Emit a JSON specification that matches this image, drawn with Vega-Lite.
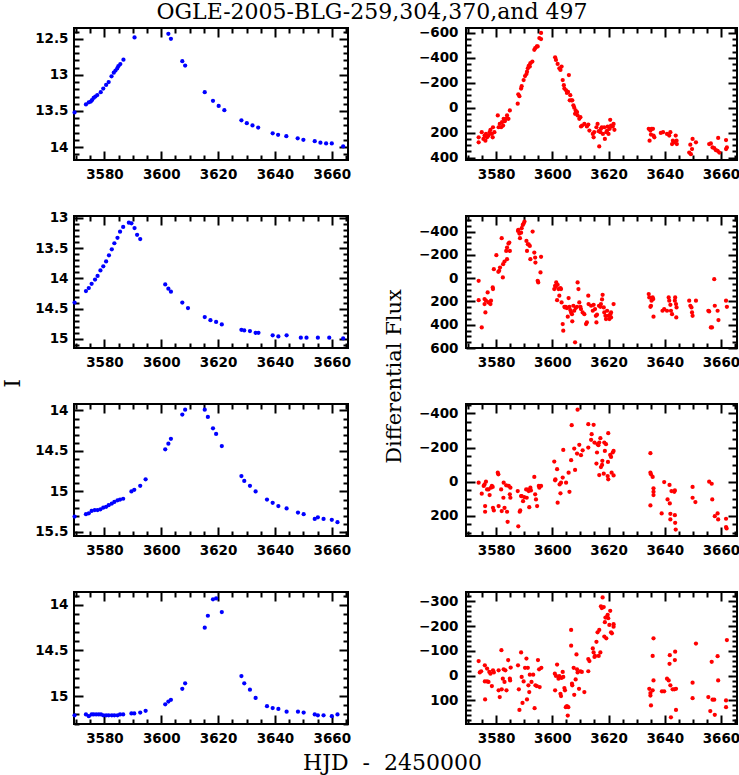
{
"$schema": "https://vega.github.io/schema/vega-lite/v6.json",
"autosize": "none",
"padding": {"left": 74, "top": 28, "right": 665, "bottom": 747},
"bounds": "flush",
"columns": 2,
"spacing": {"row": 56, "column": 118},
"config": {
  "view": {"stroke": "black", "strokeWidth": 2},
  "axis": {"domain": false, "grid": false, "labelFont": "DejaVu Sans", "labelFontWeight": "bold", "labelFontSize": 13.5, "labelColor": "black", "tickColor": "black", "tickWidth": 2, "titleFont": "DejaVu Serif", "titleFontWeight": "normal", "titleFontSize": 22, "titleColor": "black", "labelOverlap": false, "labelFlush": false}
},
"datasets": {
"p1L": [{"t":3569.5,"v":13.52},{"t":3573.5,"v":13.41},{"t":3574.5,"v":13.38},{"t":3575.2,"v":13.37},{"t":3575.6,"v":13.35},{"t":3576.2,"v":13.32},{"t":3576.8,"v":13.30},{"t":3577.5,"v":13.28},{"t":3578.7,"v":13.24},{"t":3579.6,"v":13.19},{"t":3580.6,"v":13.14},{"t":3581.5,"v":13.10},{"t":3582.5,"v":13.02},{"t":3583.3,"v":12.97},{"t":3583.9,"v":12.94},{"t":3584.5,"v":12.91},{"t":3584.9,"v":12.88},{"t":3585.6,"v":12.85},{"t":3586.7,"v":12.79},{"t":3590.6,"v":12.48},{"t":3602.5,"v":12.43},{"t":3603.4,"v":12.50},{"t":3607.4,"v":12.81},{"t":3608.4,"v":12.87},{"t":3615.3,"v":13.24},{"t":3618.2,"v":13.36},{"t":3620.2,"v":13.43},{"t":3622.2,"v":13.49},{"t":3628.2,"v":13.63},{"t":3630.1,"v":13.67},{"t":3632.1,"v":13.70},{"t":3634.1,"v":13.73},{"t":3639.2,"v":13.81},{"t":3641.1,"v":13.83},{"t":3644.0,"v":13.85},{"t":3648.0,"v":13.88},{"t":3650.0,"v":13.90},{"t":3654.0,"v":13.92},{"t":3656.0,"v":13.94},{"t":3658.0,"v":13.95},{"t":3660.0,"v":13.95},{"t":3664.0,"v":13.99}],
"p2L": [{"t":3569.5,"v":14.40},{"t":3573.5,"v":14.21},{"t":3574.5,"v":14.16},{"t":3575.5,"v":14.09},{"t":3576.7,"v":14.02},{"t":3577.6,"v":13.96},{"t":3578.6,"v":13.87},{"t":3579.6,"v":13.80},{"t":3580.6,"v":13.72},{"t":3581.6,"v":13.62},{"t":3582.6,"v":13.52},{"t":3583.5,"v":13.42},{"t":3584.6,"v":13.33},{"t":3585.5,"v":13.23},{"t":3586.6,"v":13.15},{"t":3588.6,"v":13.08},{"t":3589.5,"v":13.09},{"t":3590.6,"v":13.17},{"t":3591.5,"v":13.28},{"t":3592.6,"v":13.35},{"t":3601.4,"v":14.10},{"t":3602.5,"v":14.17},{"t":3603.4,"v":14.22},{"t":3607.4,"v":14.40},{"t":3609.4,"v":14.49},{"t":3615.3,"v":14.64},{"t":3617.3,"v":14.69},{"t":3619.3,"v":14.72},{"t":3621.3,"v":14.76},{"t":3628.2,"v":14.85},{"t":3629.2,"v":14.86},{"t":3631.2,"v":14.87},{"t":3633.2,"v":14.90},{"t":3634.2,"v":14.90},{"t":3639.2,"v":14.94},{"t":3641.2,"v":14.96},{"t":3644.1,"v":14.94},{"t":3649.1,"v":14.98},{"t":3651.1,"v":14.98},{"t":3655.1,"v":14.98},{"t":3659.1,"v":14.98},{"t":3664.0,"v":14.99}],
"p3L": [{"t":3569.5,"v":15.31},{"t":3573.5,"v":15.28},{"t":3574.5,"v":15.27},{"t":3575.5,"v":15.24},{"t":3576.6,"v":15.23},{"t":3577.6,"v":15.23},{"t":3578.6,"v":15.22},{"t":3579.6,"v":15.20},{"t":3580.6,"v":15.19},{"t":3581.5,"v":15.17},{"t":3582.6,"v":15.15},{"t":3583.5,"v":15.13},{"t":3584.6,"v":15.11},{"t":3585.5,"v":15.10},{"t":3586.6,"v":15.09},{"t":3589.5,"v":15.00},{"t":3590.5,"v":14.98},{"t":3592.6,"v":14.93},{"t":3594.5,"v":14.85},{"t":3601.4,"v":14.48},{"t":3602.5,"v":14.41},{"t":3603.4,"v":14.35},{"t":3607.4,"v":14.05},{"t":3608.4,"v":13.99},{"t":3615.3,"v":13.99},{"t":3616.4,"v":14.08},{"t":3618.2,"v":14.22},{"t":3619.3,"v":14.29},{"t":3621.3,"v":14.44},{"t":3628.2,"v":14.81},{"t":3629.2,"v":14.87},{"t":3631.2,"v":14.93},{"t":3633.2,"v":15.00},{"t":3637.2,"v":15.10},{"t":3639.2,"v":15.14},{"t":3641.2,"v":15.18},{"t":3644.1,"v":15.21},{"t":3648.1,"v":15.26},{"t":3650.1,"v":15.28},{"t":3654.0,"v":15.34},{"t":3655.1,"v":15.32},{"t":3657.1,"v":15.34},{"t":3660.0,"v":15.35},{"t":3662.0,"v":15.38}],
"p4L": [{"t":3569.5,"v":15.21},{"t":3573.5,"v":15.20},{"t":3574.5,"v":15.22},{"t":3575.5,"v":15.20},{"t":3576.2,"v":15.20},{"t":3577.1,"v":15.20},{"t":3578.0,"v":15.20},{"t":3578.8,"v":15.20},{"t":3579.6,"v":15.21},{"t":3580.6,"v":15.21},{"t":3581.5,"v":15.21},{"t":3582.6,"v":15.21},{"t":3583.5,"v":15.21},{"t":3584.6,"v":15.21},{"t":3585.5,"v":15.20},{"t":3586.6,"v":15.20},{"t":3589.5,"v":15.19},{"t":3590.5,"v":15.19},{"t":3592.6,"v":15.18},{"t":3594.5,"v":15.16},{"t":3601.4,"v":15.09},{"t":3602.5,"v":15.06},{"t":3603.4,"v":15.04},{"t":3607.4,"v":14.92},{"t":3608.4,"v":14.86},{"t":3615.3,"v":14.25},{"t":3616.4,"v":14.12},{"t":3618.2,"v":13.94},{"t":3619.3,"v":13.93},{"t":3621.3,"v":14.08},{"t":3628.2,"v":14.78},{"t":3629.2,"v":14.86},{"t":3631.2,"v":14.93},{"t":3633.2,"v":15.02},{"t":3637.2,"v":15.11},{"t":3639.2,"v":15.13},{"t":3641.2,"v":15.14},{"t":3644.1,"v":15.17},{"t":3648.1,"v":15.17},{"t":3650.1,"v":15.18},{"t":3654.0,"v":15.20},{"t":3655.1,"v":15.21},{"t":3657.1,"v":15.21},{"t":3660.0,"v":15.22},{"t":3662.0,"v":15.20}],
"p1R": [{"t":3573.8,"v":238},{"t":3573.8,"v":278},{"t":3574.9,"v":197},{"t":3575.5,"v":251},{"t":3575.9,"v":224},{"t":3576.2,"v":265},{"t":3576.4,"v":211},{"t":3576.8,"v":238},{"t":3577.3,"v":224},{"t":3577.7,"v":197},{"t":3578.0,"v":178},{"t":3578.5,"v":211},{"t":3578.8,"v":238},{"t":3578.9,"v":157},{"t":3579.4,"v":197},{"t":3580.6,"v":62},{"t":3580.9,"v":157},{"t":3581.3,"v":130},{"t":3581.8,"v":157},{"t":3582.1,"v":116},{"t":3582.5,"v":143},{"t":3582.7,"v":89},{"t":3583.1,"v":108},{"t":3583.6,"v":89},{"t":3583.9,"v":62},{"t":3584.4,"v":89},{"t":3584.9,"v":22},{"t":3587.7,"v":-32},{"t":3587.9,"v":-108},{"t":3588.3,"v":-92},{"t":3588.9,"v":-154},{"t":3589.1,"v":-173},{"t":3589.8,"v":-222},{"t":3590.3,"v":-254},{"t":3590.8,"v":-270},{"t":3591.0,"v":-289},{"t":3591.3,"v":-316},{"t":3591.6,"v":-335},{"t":3592.0,"v":-330},{"t":3592.2,"v":-357},{"t":3592.9,"v":-370},{"t":3593.6,"v":-465},{"t":3593.9,"v":-478},{"t":3594.5,"v":-492},{"t":3594.8,"v":-492},{"t":3595.4,"v":-559},{"t":3596.0,"v":-600},{"t":3596.0,"v":-551},{"t":3601.0,"v":-405},{"t":3601.3,"v":-384},{"t":3601.9,"v":-351},{"t":3602.5,"v":-316},{"t":3602.9,"v":-303},{"t":3603.3,"v":-330},{"t":3603.7,"v":-222},{"t":3604.1,"v":-181},{"t":3604.3,"v":-154},{"t":3604.9,"v":-140},{"t":3605.2,"v":-119},{"t":3605.6,"v":-127},{"t":3605.9,"v":-262},{"t":3606.2,"v":-59},{"t":3606.4,"v":-100},{"t":3606.8,"v":-59},{"t":3607.1,"v":-59},{"t":3607.5,"v":-19},{"t":3607.8,"v":0},{"t":3608.1,"v":49},{"t":3608.3,"v":22},{"t":3608.8,"v":35},{"t":3609.0,"v":62},{"t":3609.6,"v":89},{"t":3610.0,"v":76},{"t":3610.2,"v":151},{"t":3610.6,"v":143},{"t":3611.4,"v":130},{"t":3612.3,"v":151},{"t":3612.8,"v":135},{"t":3613.2,"v":184},{"t":3614.4,"v":211},{"t":3614.7,"v":238},{"t":3614.9,"v":197},{"t":3615.7,"v":157},{"t":3616.1,"v":130},{"t":3616.5,"v":189},{"t":3616.7,"v":311},{"t":3617.1,"v":197},{"t":3617.3,"v":170},{"t":3617.6,"v":157},{"t":3618.0,"v":211},{"t":3618.5,"v":157},{"t":3618.7,"v":251},{"t":3619.2,"v":197},{"t":3619.5,"v":184},{"t":3619.7,"v":151},{"t":3620.0,"v":211},{"t":3620.4,"v":170},{"t":3620.6,"v":97},{"t":3620.9,"v":143},{"t":3621.5,"v":151},{"t":3621.8,"v":130},{"t":3622.1,"v":178},{"t":3634.3,"v":170},{"t":3634.9,"v":184},{"t":3635.1,"v":216},{"t":3635.3,"v":170},{"t":3635.8,"v":170},{"t":3636.0,"v":224},{"t":3636.3,"v":238},{"t":3634.6,"v":265},{"t":3638.6,"v":203},{"t":3639.4,"v":197},{"t":3640.8,"v":211},{"t":3641.6,"v":224},{"t":3642.0,"v":197},{"t":3642.6,"v":292},{"t":3642.9,"v":265},{"t":3643.4,"v":278},{"t":3643.9,"v":224},{"t":3644.3,"v":292},{"t":3644.2,"v":265},{"t":3648.7,"v":360},{"t":3649.1,"v":297},{"t":3649.3,"v":373},{"t":3649.7,"v":332},{"t":3649.9,"v":251},{"t":3651.1,"v":278},{"t":3655.8,"v":292},{"t":3656.4,"v":287},{"t":3657.0,"v":319},{"t":3657.6,"v":324},{"t":3658.2,"v":341},{"t":3658.8,"v":346},{"t":3659.4,"v":360},{"t":3659.0,"v":243},{"t":3661.8,"v":260},{"t":3662.1,"v":319},{"t":3661.8,"v":332}],
"p2R": [{"t":3573.8,"v":23},{"t":3573.8,"v":189},{"t":3574.9,"v":423},{"t":3575.9,"v":180},{"t":3575.9,"v":223},{"t":3576.2,"v":294},{"t":3576.4,"v":194},{"t":3577.0,"v":123},{"t":3577.3,"v":209},{"t":3577.6,"v":209},{"t":3578.0,"v":223},{"t":3578.2,"v":194},{"t":3578.8,"v":80},{"t":3578.9,"v":94},{"t":3579.2,"v":-77},{"t":3580.1,"v":-197},{"t":3580.8,"v":-54},{"t":3581.1,"v":-63},{"t":3581.4,"v":-91},{"t":3582.0,"v":-343},{"t":3582.4,"v":-6},{"t":3582.5,"v":-120},{"t":3583.0,"v":-143},{"t":3583.6,"v":-234},{"t":3583.9,"v":-163},{"t":3583.9,"v":-263},{"t":3584.4,"v":-297},{"t":3584.7,"v":-306},{"t":3584.9,"v":-234},{"t":3587.8,"v":-406},{"t":3587.9,"v":-414},{"t":3588.3,"v":-383},{"t":3588.5,"v":-343},{"t":3588.9,"v":-391},{"t":3589.1,"v":-429},{"t":3589.5,"v":-457},{"t":3589.8,"v":-469},{"t":3590.1,"v":-486},{"t":3590.8,"v":-320},{"t":3591.0,"v":-234},{"t":3591.3,"v":-291},{"t":3591.6,"v":-291},{"t":3592.0,"v":-277},{"t":3592.2,"v":-163},{"t":3593.0,"v":-400},{"t":3593.6,"v":-220},{"t":3593.9,"v":-177},{"t":3594.0,"v":-134},{"t":3594.8,"v":23},{"t":3595.0,"v":37},{"t":3595.8,"v":-49},{"t":3596.0,"v":-183},{"t":3600.7,"v":94},{"t":3601.0,"v":66},{"t":3601.2,"v":74},{"t":3601.4,"v":37},{"t":3601.7,"v":189},{"t":3601.9,"v":57},{"t":3602.2,"v":94},{"t":3602.5,"v":151},{"t":3602.9,"v":86},{"t":3603.1,"v":94},{"t":3603.3,"v":209},{"t":3603.7,"v":394},{"t":3603.9,"v":451},{"t":3604.3,"v":246},{"t":3604.5,"v":251},{"t":3604.8,"v":246},{"t":3605.2,"v":257},{"t":3605.5,"v":331},{"t":3605.8,"v":171},{"t":3606.1,"v":246},{"t":3606.4,"v":274},{"t":3606.7,"v":294},{"t":3607.0,"v":309},{"t":3607.1,"v":371},{"t":3607.5,"v":237},{"t":3607.8,"v":280},{"t":3608.1,"v":551},{"t":3608.3,"v":257},{"t":3608.8,"v":246},{"t":3609.0,"v":37},{"t":3609.3,"v":94},{"t":3609.6,"v":209},{"t":3610.0,"v":246},{"t":3610.2,"v":266},{"t":3610.8,"v":294},{"t":3611.4,"v":309},{"t":3612.0,"v":394},{"t":3612.3,"v":380},{"t":3612.8,"v":151},{"t":3612.9,"v":223},{"t":3613.8,"v":237},{"t":3614.4,"v":280},{"t":3614.7,"v":229},{"t":3615.2,"v":266},{"t":3615.5,"v":323},{"t":3615.7,"v":380},{"t":3615.9,"v":314},{"t":3616.6,"v":237},{"t":3617.1,"v":246},{"t":3617.3,"v":223},{"t":3617.7,"v":183},{"t":3617.9,"v":143},{"t":3618.3,"v":251},{"t":3618.5,"v":294},{"t":3618.9,"v":323},{"t":3619.1,"v":351},{"t":3619.5,"v":280},{"t":3619.9,"v":323},{"t":3620.3,"v":351},{"t":3620.6,"v":309},{"t":3620.9,"v":337},{"t":3620.9,"v":294},{"t":3621.8,"v":223},{"t":3634.3,"v":137},{"t":3634.5,"v":166},{"t":3634.9,"v":246},{"t":3635.1,"v":237},{"t":3635.3,"v":194},{"t":3635.7,"v":166},{"t":3635.9,"v":180},{"t":3636.0,"v":331},{"t":3639.2,"v":280},{"t":3639.8,"v":266},{"t":3640.8,"v":280},{"t":3641.4,"v":166},{"t":3641.6,"v":194},{"t":3642.0,"v":229},{"t":3642.2,"v":280},{"t":3642.6,"v":309},{"t":3643.6,"v":194},{"t":3643.7,"v":166},{"t":3644.0,"v":223},{"t":3644.2,"v":251},{"t":3644.1,"v":337},{"t":3648.7,"v":194},{"t":3649.1,"v":237},{"t":3649.5,"v":251},{"t":3649.7,"v":294},{"t":3649.9,"v":323},{"t":3651.1,"v":194},{"t":3655.5,"v":280},{"t":3655.8,"v":286},{"t":3656.4,"v":423},{"t":3656.8,"v":423},{"t":3657.6,"v":9},{"t":3657.8,"v":237},{"t":3658.8,"v":280},{"t":3659.1,"v":360},{"t":3661.8,"v":194},{"t":3662.1,"v":246}],
"p3R": [{"t":3573.8,"v":6},{"t":3574.9,"v":70},{"t":3575.6,"v":25},{"t":3575.9,"v":16},{"t":3576.1,"v":143},{"t":3576.1,"v":176},{"t":3576.4,"v":0},{"t":3576.8,"v":45},{"t":3577.3,"v":45},{"t":3577.7,"v":78},{"t":3578.2,"v":35},{"t":3578.5,"v":25},{"t":3578.8,"v":31},{"t":3578.9,"v":153},{"t":3579.2,"v":168},{"t":3580.6,"v":-53},{"t":3580.8,"v":-43},{"t":3580.9,"v":143},{"t":3581.8,"v":45},{"t":3582.0,"v":172},{"t":3582.6,"v":94},{"t":3582.7,"v":6},{"t":3583.0,"v":153},{"t":3583.6,"v":21},{"t":3583.9,"v":176},{"t":3584.1,"v":235},{"t":3584.5,"v":25},{"t":3584.9,"v":74},{"t":3585.1,"v":35},{"t":3585.1,"v":94},{"t":3587.7,"v":55},{"t":3587.9,"v":261},{"t":3588.4,"v":176},{"t":3588.6,"v":168},{"t":3588.9,"v":84},{"t":3589.1,"v":84},{"t":3589.6,"v":114},{"t":3590.0,"v":90},{"t":3590.7,"v":45},{"t":3590.9,"v":94},{"t":3591.3,"v":47},{"t":3591.6,"v":55},{"t":3591.8,"v":149},{"t":3592.2,"v":35},{"t":3592.4,"v":51},{"t":3593.6,"v":-28},{"t":3593.9,"v":74},{"t":3594.2,"v":104},{"t":3594.6,"v":143},{"t":3595.2,"v":25},{"t":3595.4,"v":35},{"t":3596.0,"v":25},{"t":3600.7,"v":-118},{"t":3601.0,"v":-8},{"t":3601.1,"v":-14},{"t":3601.7,"v":-73},{"t":3601.9,"v":123},{"t":3602.6,"v":16},{"t":3602.9,"v":68},{"t":3603.1,"v":6},{"t":3603.7,"v":-24},{"t":3603.9,"v":-186},{"t":3604.9,"v":6},{"t":3605.8,"v":-53},{"t":3606.1,"v":59},{"t":3606.7,"v":-126},{"t":3606.9,"v":-331},{"t":3607.8,"v":-194},{"t":3608.1,"v":-69},{"t":3608.8,"v":-165},{"t":3609.0,"v":-422},{"t":3609.6,"v":-216},{"t":3610.2,"v":-155},{"t":3610.8,"v":-184},{"t":3612.8,"v":-337},{"t":3612.8,"v":-200},{"t":3613.8,"v":-245},{"t":3614.0,"v":-278},{"t":3614.7,"v":-333},{"t":3615.0,"v":-229},{"t":3615.7,"v":-106},{"t":3615.9,"v":-171},{"t":3616.1,"v":-220},{"t":3616.4,"v":-214},{"t":3616.7,"v":-229},{"t":3616.7,"v":-39},{"t":3617.1,"v":-255},{"t":3617.3,"v":-86},{"t":3617.7,"v":-98},{"t":3617.8,"v":-122},{"t":3618.3,"v":-47},{"t":3618.5,"v":-229},{"t":3618.7,"v":-180},{"t":3619.1,"v":-220},{"t":3619.7,"v":-33},{"t":3619.8,"v":-116},{"t":3619.9,"v":-284},{"t":3619.9,"v":-14},{"t":3620.6,"v":-157},{"t":3620.9,"v":-145},{"t":3621.1,"v":-53},{"t":3621.5,"v":-171},{"t":3621.8,"v":-37},{"t":3621.8,"v":-180},{"t":3634.9,"v":-167},{"t":3634.9,"v":-53},{"t":3635.1,"v":-43},{"t":3635.7,"v":-28},{"t":3634.9,"v":139},{"t":3636.0,"v":39},{"t":3636.0,"v":59},{"t":3636.0,"v":78},{"t":3639.8,"v":2},{"t":3638.9,"v":186},{"t":3641.0,"v":104},{"t":3641.7,"v":19},{"t":3641.8,"v":127},{"t":3642.0,"v":188},{"t":3642.0,"v":221},{"t":3642.4,"v":55},{"t":3643.4,"v":59},{"t":3643.6,"v":51},{"t":3643.6,"v":196},{"t":3643.7,"v":241},{"t":3643.9,"v":280},{"t":3649.9,"v":31},{"t":3649.9,"v":94},{"t":3650.9,"v":119},{"t":3655.8,"v":0},{"t":3656.7,"v":12},{"t":3656.9,"v":104},{"t":3657.8,"v":202},{"t":3658.8,"v":186},{"t":3659.0,"v":221},{"t":3661.8,"v":217},{"t":3661.8,"v":266},{"t":3662.0,"v":274}],
"p4R": [{"t":3573.8,"v":-59},{"t":3574.2,"v":-13},{"t":3574.7,"v":-18},{"t":3576.0,"v":-42},{"t":3576.0,"v":23},{"t":3576.1,"v":96},{"t":3576.8,"v":23},{"t":3576.8,"v":-29},{"t":3577.3,"v":25},{"t":3577.6,"v":-15},{"t":3578.0,"v":-8},{"t":3578.5,"v":42},{"t":3578.9,"v":-22},{"t":3579.2,"v":-13},{"t":3580.9,"v":-22},{"t":3580.9,"v":59},{"t":3581.3,"v":86},{"t":3581.9,"v":-103},{"t":3582.0,"v":55},{"t":3582.4,"v":12},{"t":3582.7,"v":-26},{"t":3583.0,"v":25},{"t":3583.3,"v":-22},{"t":3583.7,"v":59},{"t":3584.3,"v":-63},{"t":3584.9,"v":12},{"t":3585.0,"v":19},{"t":3585.2,"v":-33},{"t":3587.8,"v":-42},{"t":3588.1,"v":55},{"t":3588.3,"v":138},{"t":3588.9,"v":-94},{"t":3589.1,"v":5},{"t":3589.4,"v":110},{"t":3589.8,"v":23},{"t":3590.3,"v":-32},{"t":3590.8,"v":-69},{"t":3591.0,"v":96},{"t":3591.3,"v":-32},{"t":3591.5,"v":39},{"t":3591.8,"v":66},{"t":3592.0,"v":-4},{"t":3592.6,"v":25},{"t":3593.2,"v":-4},{"t":3593.7,"v":131},{"t":3594.0,"v":39},{"t":3594.5,"v":42},{"t":3594.9,"v":-63},{"t":3595.3,"v":-26},{"t":3595.5,"v":46},{"t":3596.1,"v":-32},{"t":3600.9,"v":-8},{"t":3601.0,"v":59},{"t":3601.3,"v":1},{"t":3601.7,"v":-45},{"t":3602.2,"v":12},{"t":3602.5,"v":2},{"t":3602.9,"v":73},{"t":3603.1,"v":82},{"t":3603.3,"v":9},{"t":3603.7,"v":-15},{"t":3603.9,"v":5},{"t":3604.3,"v":50},{"t":3604.5,"v":59},{"t":3604.8,"v":127},{"t":3605.2,"v":123},{"t":3605.5,"v":161},{"t":3605.7,"v":127},{"t":3606.7,"v":-185},{"t":3606.7,"v":-121},{"t":3607.0,"v":32},{"t":3607.1,"v":39},{"t":3607.6,"v":-32},{"t":3607.8,"v":77},{"t":3608.3,"v":15},{"t":3608.6,"v":-86},{"t":3608.8,"v":-26},{"t":3609.0,"v":-13},{"t":3609.5,"v":53},{"t":3610.0,"v":-18},{"t":3610.5,"v":-15},{"t":3611.4,"v":66},{"t":3612.8,"v":-18},{"t":3612.8,"v":-67},{"t":3613.2,"v":-59},{"t":3614.4,"v":-110},{"t":3614.7,"v":-94},{"t":3615.0,"v":-76},{"t":3615.2,"v":-80},{"t":3615.7,"v":-137},{"t":3616.1,"v":-175},{"t":3616.5,"v":-80},{"t":3616.7,"v":-185},{"t":3617.1,"v":-94},{"t":3617.3,"v":-280},{"t":3617.6,"v":-273},{"t":3617.9,"v":-316},{"t":3618.3,"v":-277},{"t":3618.5,"v":-158},{"t":3618.7,"v":-216},{"t":3618.9,"v":-235},{"t":3619.2,"v":-151},{"t":3619.5,"v":-239},{"t":3619.7,"v":-246},{"t":3619.9,"v":-232},{"t":3620.3,"v":-205},{"t":3620.6,"v":-262},{"t":3620.9,"v":-175},{"t":3621.2,"v":-171},{"t":3621.8,"v":-208},{"t":3621.8,"v":-198},{"t":3634.5,"v":53},{"t":3634.9,"v":70},{"t":3634.9,"v":80},{"t":3635.1,"v":120},{"t":3635.7,"v":-80},{"t":3635.7,"v":59},{"t":3636.0,"v":19},{"t":3636.0,"v":-151},{"t":3639.0,"v":63},{"t":3639.8,"v":63},{"t":3640.8,"v":12},{"t":3641.4,"v":19},{"t":3641.7,"v":-48},{"t":3641.8,"v":-83},{"t":3642.0,"v":39},{"t":3642.2,"v":168},{"t":3642.8,"v":55},{"t":3643.4,"v":55},{"t":3643.6,"v":-63},{"t":3643.7,"v":-97},{"t":3644.0,"v":53},{"t":3644.0,"v":138},{"t":3649.9,"v":28},{"t":3649.9,"v":91},{"t":3651.1,"v":-130},{"t":3655.5,"v":86},{"t":3656.2,"v":143},{"t":3656.7,"v":-56},{"t":3657.0,"v":97},{"t":3657.6,"v":97},{"t":3657.8,"v":158},{"t":3658.8,"v":-79},{"t":3659.0,"v":19},{"t":3661.8,"v":100},{"t":3661.8,"v":127},{"t":3662.1,"v":-144}]
},
"concat": [
{"width": 274, "height": 132, "data": {"name": "p1L"}, "resolve": {"axis": {"x": "independent", "y": "independent"}},
 "layer": [
  {"mark": {"type": "point", "filled": true, "size": 18, "color": "#0000ff", "opacity": 1},
   "encoding": {"x": {"field": "t", "type": "quantitative", "scale": {"domain": [3569.3, 3665.7], "nice": false, "zero": false}, "axis": {"orient": "bottom", "values": [3580,3600,3620,3640,3660], "format": "d", "tickSize": -9, "labelPadding": 16, "title": null}},
                "y": {"field": "v", "type": "quantitative", "scale": {"domain": [12.35, 14.18], "reverse": true, "nice": false, "zero": false}, "axis": {"orient": "left", "values": [12.5,13,13.5,14], "format": "~g", "tickSize": -9, "labelPadding": 15, "title": null}}}},
  {"mark": {"type": "point", "opacity": 0},
   "encoding": {"x": {"field": "t", "type": "quantitative", "scale": {"domain": [3569.3, 3665.7], "nice": false, "zero": false}, "axis": {"orient": "top", "values": [3580,3600,3620,3640,3660], "tickSize": -9, "labels": false, "title": "OGLE-2005-BLG-259,304,370,and 497", "titleX": 82, "titleY": -9.5, "titleAlign": "left", "titleBaseline": "alphabetic", "titleAngle": 0}},
                "y": {"field": "v", "type": "quantitative", "scale": {"domain": [12.35, 14.18], "reverse": true, "nice": false, "zero": false}, "axis": {"orient": "right", "values": [12.5,13,13.5,14], "tickSize": -9, "labels": false, "title": null}}}},
  {"mark": {"type": "point", "opacity": 0},
   "encoding": {"x": {"field": "t", "type": "quantitative", "scale": {"domain": [3569.3, 3665.7], "nice": false, "zero": false}, "axis": {"orient": "bottom", "values": [3570,3575,3585,3590,3595,3605,3610,3615,3625,3630,3635,3645,3650,3655,3665], "tickSize": -5, "labels": false, "title": null}},
                "y": {"field": "v", "type": "quantitative", "scale": {"domain": [12.35, 14.18], "reverse": true, "nice": false, "zero": false}, "axis": {"orient": "left", "values": [12.4,12.6,12.7,12.8,12.9,13.1,13.2,13.3,13.4,13.6,13.7,13.8,13.9,14.1], "tickSize": -5, "labels": false, "title": null}}}},
  {"mark": {"type": "point", "opacity": 0},
   "encoding": {"x": {"field": "t", "type": "quantitative", "scale": {"domain": [3569.3, 3665.7], "nice": false, "zero": false}, "axis": {"orient": "top", "values": [3570,3575,3585,3590,3595,3605,3610,3615,3625,3630,3635,3645,3650,3655,3665], "tickSize": -5, "labels": false, "title": null}},
                "y": {"field": "v", "type": "quantitative", "scale": {"domain": [12.35, 14.18], "reverse": true, "nice": false, "zero": false}, "axis": {"orient": "right", "values": [12.4,12.6,12.7,12.8,12.9,13.1,13.2,13.3,13.4,13.6,13.7,13.8,13.9,14.1], "tickSize": -5, "labels": false, "title": null}}}}
 ]},
{"width": 271, "height": 132, "data": {"name": "p1R"}, "resolve": {"axis": {"x": "independent", "y": "independent"}},
 "layer": [
  {"mark": {"type": "point", "filled": true, "size": 18, "color": "#ff0000", "opacity": 1},
   "encoding": {"x": {"field": "t", "type": "quantitative", "scale": {"domain": [3569.3, 3665.7], "nice": false, "zero": false}, "axis": {"orient": "bottom", "values": [3580,3600,3620,3640,3660], "format": "d", "tickSize": -9, "labelPadding": 16, "title": null}},
                "y": {"field": "v", "type": "quantitative", "scale": {"domain": [-640, 420], "reverse": true, "nice": false, "zero": false}, "axis": {"orient": "left", "values": [-600,-400,-200,0,200,400], "format": "d", "tickSize": -9, "labelPadding": 17, "title": null}}}},
  {"mark": {"type": "point", "opacity": 0},
   "encoding": {"x": {"field": "t", "type": "quantitative", "scale": {"domain": [3569.3, 3665.7], "nice": false, "zero": false}, "axis": {"orient": "top", "values": [3580,3600,3620,3640,3660], "tickSize": -9, "labels": false, "title": null}},
                "y": {"field": "v", "type": "quantitative", "scale": {"domain": [-640, 420], "reverse": true, "nice": false, "zero": false}, "axis": {"orient": "right", "values": [-600,-400,-200,0,200,400], "tickSize": -9, "labels": false, "title": null}}}},
  {"mark": {"type": "point", "opacity": 0},
   "encoding": {"x": {"field": "t", "type": "quantitative", "scale": {"domain": [3569.3, 3665.7], "nice": false, "zero": false}, "axis": {"orient": "bottom", "values": [3570,3575,3585,3590,3595,3605,3610,3615,3625,3630,3635,3645,3650,3655,3665], "tickSize": -5, "labels": false, "title": null}},
                "y": {"field": "v", "type": "quantitative", "scale": {"domain": [-640, 420], "reverse": true, "nice": false, "zero": false}, "axis": {"orient": "left", "values": [-550,-500,-450,-350,-300,-250,-150,-100,-50,50,100,150,250,300,350], "tickSize": -5, "labels": false, "title": null}}}},
  {"mark": {"type": "point", "opacity": 0},
   "encoding": {"x": {"field": "t", "type": "quantitative", "scale": {"domain": [3569.3, 3665.7], "nice": false, "zero": false}, "axis": {"orient": "top", "values": [3570,3575,3585,3590,3595,3605,3610,3615,3625,3630,3635,3645,3650,3655,3665], "tickSize": -5, "labels": false, "title": null}},
                "y": {"field": "v", "type": "quantitative", "scale": {"domain": [-640, 420], "reverse": true, "nice": false, "zero": false}, "axis": {"orient": "right", "values": [-550,-500,-450,-350,-300,-250,-150,-100,-50,50,100,150,250,300,350], "tickSize": -5, "labels": false, "title": null}}}}
 ]},
{"width": 274, "height": 132, "data": {"name": "p2L"}, "resolve": {"axis": {"x": "independent", "y": "independent"}},
 "layer": [
  {"mark": {"type": "point", "filled": true, "size": 18, "color": "#0000ff", "opacity": 1},
   "encoding": {"x": {"field": "t", "type": "quantitative", "scale": {"domain": [3569.3, 3665.7], "nice": false, "zero": false}, "axis": {"orient": "bottom", "values": [3580,3600,3620,3640,3660], "format": "d", "tickSize": -9, "labelPadding": 16, "title": null}},
                "y": {"field": "v", "type": "quantitative", "scale": {"domain": [12.97, 15.15], "reverse": true, "nice": false, "zero": false}, "axis": {"orient": "left", "values": [13,13.5,14,14.5,15], "format": "~g", "tickSize": -9, "labelPadding": 15, "title": null}}}},
  {"mark": {"type": "point", "opacity": 0},
   "encoding": {"x": {"field": "t", "type": "quantitative", "scale": {"domain": [3569.3, 3665.7], "nice": false, "zero": false}, "axis": {"orient": "top", "values": [3580,3600,3620,3640,3660], "tickSize": -9, "labels": false, "title": null}},
                "y": {"field": "v", "type": "quantitative", "scale": {"domain": [12.97, 15.15], "reverse": true, "nice": false, "zero": false}, "axis": {"orient": "right", "values": [13,13.5,14,14.5,15], "tickSize": -9, "labels": false, "title": null}}}},
  {"mark": {"type": "point", "opacity": 0},
   "encoding": {"x": {"field": "t", "type": "quantitative", "scale": {"domain": [3569.3, 3665.7], "nice": false, "zero": false}, "axis": {"orient": "bottom", "values": [3570,3575,3585,3590,3595,3605,3610,3615,3625,3630,3635,3645,3650,3655,3665], "tickSize": -5, "labels": false, "title": null}},
                "y": {"field": "v", "type": "quantitative", "scale": {"domain": [12.97, 15.15], "reverse": true, "nice": false, "zero": false}, "axis": {"orient": "left", "values": [13.1,13.2,13.3,13.4,13.6,13.7,13.8,13.9,14.1,14.2,14.3,14.4,14.6,14.7,14.8,14.9,15.1], "tickSize": -5, "labels": false, "title": null}}}},
  {"mark": {"type": "point", "opacity": 0},
   "encoding": {"x": {"field": "t", "type": "quantitative", "scale": {"domain": [3569.3, 3665.7], "nice": false, "zero": false}, "axis": {"orient": "top", "values": [3570,3575,3585,3590,3595,3605,3610,3615,3625,3630,3635,3645,3650,3655,3665], "tickSize": -5, "labels": false, "title": null}},
                "y": {"field": "v", "type": "quantitative", "scale": {"domain": [12.97, 15.15], "reverse": true, "nice": false, "zero": false}, "axis": {"orient": "right", "values": [13.1,13.2,13.3,13.4,13.6,13.7,13.8,13.9,14.1,14.2,14.3,14.4,14.6,14.7,14.8,14.9,15.1], "tickSize": -5, "labels": false, "title": null}}}}
 ]},
{"width": 271, "height": 132, "data": {"name": "p2R"}, "resolve": {"axis": {"x": "independent", "y": "independent"}},
 "layer": [
  {"mark": {"type": "point", "filled": true, "size": 18, "color": "#ff0000", "opacity": 1},
   "encoding": {"x": {"field": "t", "type": "quantitative", "scale": {"domain": [3569.3, 3665.7], "nice": false, "zero": false}, "axis": {"orient": "bottom", "values": [3580,3600,3620,3640,3660], "format": "d", "tickSize": -9, "labelPadding": 16, "title": null}},
                "y": {"field": "v", "type": "quantitative", "scale": {"domain": [-534, 600], "reverse": true, "nice": false, "zero": false}, "axis": {"orient": "left", "values": [-400,-200,0,200,400,600], "format": "d", "tickSize": -9, "labelPadding": 17, "title": null}}}},
  {"mark": {"type": "point", "opacity": 0},
   "encoding": {"x": {"field": "t", "type": "quantitative", "scale": {"domain": [3569.3, 3665.7], "nice": false, "zero": false}, "axis": {"orient": "top", "values": [3580,3600,3620,3640,3660], "tickSize": -9, "labels": false, "title": null}},
                "y": {"field": "v", "type": "quantitative", "scale": {"domain": [-534, 600], "reverse": true, "nice": false, "zero": false}, "axis": {"orient": "right", "values": [-400,-200,0,200,400,600], "tickSize": -9, "labels": false, "title": null}}}},
  {"mark": {"type": "point", "opacity": 0},
   "encoding": {"x": {"field": "t", "type": "quantitative", "scale": {"domain": [3569.3, 3665.7], "nice": false, "zero": false}, "axis": {"orient": "bottom", "values": [3570,3575,3585,3590,3595,3605,3610,3615,3625,3630,3635,3645,3650,3655,3665], "tickSize": -5, "labels": false, "title": null}},
                "y": {"field": "v", "type": "quantitative", "scale": {"domain": [-534, 600], "reverse": true, "nice": false, "zero": false}, "axis": {"orient": "left", "values": [-500,-450,-350,-300,-250,-150,-100,-50,50,100,150,250,300,350,450,500,550], "tickSize": -5, "labels": false, "title": null}}}},
  {"mark": {"type": "point", "opacity": 0},
   "encoding": {"x": {"field": "t", "type": "quantitative", "scale": {"domain": [3569.3, 3665.7], "nice": false, "zero": false}, "axis": {"orient": "top", "values": [3570,3575,3585,3590,3595,3605,3610,3615,3625,3630,3635,3645,3650,3655,3665], "tickSize": -5, "labels": false, "title": null}},
                "y": {"field": "v", "type": "quantitative", "scale": {"domain": [-534, 600], "reverse": true, "nice": false, "zero": false}, "axis": {"orient": "right", "values": [-500,-450,-350,-300,-250,-150,-100,-50,50,100,150,250,300,350,450,500,550], "tickSize": -5, "labels": false, "title": null}}}}
 ]},
{"width": 274, "height": 132, "data": {"name": "p3L"}, "resolve": {"axis": {"x": "independent", "y": "independent"}},
 "layer": [
  {"mark": {"type": "point", "filled": true, "size": 18, "color": "#0000ff", "opacity": 1},
   "encoding": {"x": {"field": "t", "type": "quantitative", "scale": {"domain": [3569.3, 3665.7], "nice": false, "zero": false}, "axis": {"orient": "bottom", "values": [3580,3600,3620,3640,3660], "format": "d", "tickSize": -9, "labelPadding": 16, "title": null}},
                "y": {"field": "v", "type": "quantitative", "scale": {"domain": [13.92, 15.55], "reverse": true, "nice": false, "zero": false}, "axis": {"orient": "left", "values": [14,14.5,15,15.5], "format": "~g", "tickSize": -9, "labelPadding": 15, "title": "I", "titleX": -55, "titleY": -21, "titleBaseline": "alphabetic", "titleAlign": "center", "titleAngle": -90}}}},
  {"mark": {"type": "point", "opacity": 0},
   "encoding": {"x": {"field": "t", "type": "quantitative", "scale": {"domain": [3569.3, 3665.7], "nice": false, "zero": false}, "axis": {"orient": "top", "values": [3580,3600,3620,3640,3660], "tickSize": -9, "labels": false, "title": null}},
                "y": {"field": "v", "type": "quantitative", "scale": {"domain": [13.92, 15.55], "reverse": true, "nice": false, "zero": false}, "axis": {"orient": "right", "values": [14,14.5,15,15.5], "tickSize": -9, "labels": false, "title": null}}}},
  {"mark": {"type": "point", "opacity": 0},
   "encoding": {"x": {"field": "t", "type": "quantitative", "scale": {"domain": [3569.3, 3665.7], "nice": false, "zero": false}, "axis": {"orient": "bottom", "values": [3570,3575,3585,3590,3595,3605,3610,3615,3625,3630,3635,3645,3650,3655,3665], "tickSize": -5, "labels": false, "title": null}},
                "y": {"field": "v", "type": "quantitative", "scale": {"domain": [13.92, 15.55], "reverse": true, "nice": false, "zero": false}, "axis": {"orient": "left", "values": [14.1,14.2,14.3,14.4,14.6,14.7,14.8,14.9,15.1,15.2,15.3,15.4], "tickSize": -5, "labels": false, "title": null}}}},
  {"mark": {"type": "point", "opacity": 0},
   "encoding": {"x": {"field": "t", "type": "quantitative", "scale": {"domain": [3569.3, 3665.7], "nice": false, "zero": false}, "axis": {"orient": "top", "values": [3570,3575,3585,3590,3595,3605,3610,3615,3625,3630,3635,3645,3650,3655,3665], "tickSize": -5, "labels": false, "title": null}},
                "y": {"field": "v", "type": "quantitative", "scale": {"domain": [13.92, 15.55], "reverse": true, "nice": false, "zero": false}, "axis": {"orient": "right", "values": [14.1,14.2,14.3,14.4,14.6,14.7,14.8,14.9,15.1,15.2,15.3,15.4], "tickSize": -5, "labels": false, "title": null}}}}
 ]},
{"width": 271, "height": 132, "data": {"name": "p3R"}, "resolve": {"axis": {"x": "independent", "y": "independent"}},
 "layer": [
  {"mark": {"type": "point", "filled": true, "size": 18, "color": "#ff0000", "opacity": 1},
   "encoding": {"x": {"field": "t", "type": "quantitative", "scale": {"domain": [3569.3, 3665.7], "nice": false, "zero": false}, "axis": {"orient": "bottom", "values": [3580,3600,3620,3640,3660], "format": "d", "tickSize": -9, "labelPadding": 16, "title": null}},
                "y": {"field": "v", "type": "quantitative", "scale": {"domain": [-455, 318], "reverse": true, "nice": false, "zero": false}, "axis": {"orient": "left", "values": [-400,-200,0,200], "format": "d", "tickSize": -9, "labelPadding": 17, "title": "Differential Flux", "titleX": -66, "titleY": -28, "titleBaseline": "alphabetic", "titleAlign": "center", "titleAngle": -90, "titleFontSize": 21}}}},
  {"mark": {"type": "point", "opacity": 0},
   "encoding": {"x": {"field": "t", "type": "quantitative", "scale": {"domain": [3569.3, 3665.7], "nice": false, "zero": false}, "axis": {"orient": "top", "values": [3580,3600,3620,3640,3660], "tickSize": -9, "labels": false, "title": null}},
                "y": {"field": "v", "type": "quantitative", "scale": {"domain": [-455, 318], "reverse": true, "nice": false, "zero": false}, "axis": {"orient": "right", "values": [-400,-200,0,200], "tickSize": -9, "labels": false, "title": null}}}},
  {"mark": {"type": "point", "opacity": 0},
   "encoding": {"x": {"field": "t", "type": "quantitative", "scale": {"domain": [3569.3, 3665.7], "nice": false, "zero": false}, "axis": {"orient": "bottom", "values": [3570,3575,3585,3590,3595,3605,3610,3615,3625,3630,3635,3645,3650,3655,3665], "tickSize": -5, "labels": false, "title": null}},
                "y": {"field": "v", "type": "quantitative", "scale": {"domain": [-455, 318], "reverse": true, "nice": false, "zero": false}, "axis": {"orient": "left", "values": [-450,-350,-300,-250,-150,-100,-50,50,100,150,250,300], "tickSize": -5, "labels": false, "title": null}}}},
  {"mark": {"type": "point", "opacity": 0},
   "encoding": {"x": {"field": "t", "type": "quantitative", "scale": {"domain": [3569.3, 3665.7], "nice": false, "zero": false}, "axis": {"orient": "top", "values": [3570,3575,3585,3590,3595,3605,3610,3615,3625,3630,3635,3645,3650,3655,3665], "tickSize": -5, "labels": false, "title": null}},
                "y": {"field": "v", "type": "quantitative", "scale": {"domain": [-455, 318], "reverse": true, "nice": false, "zero": false}, "axis": {"orient": "right", "values": [-450,-350,-300,-250,-150,-100,-50,50,100,150,250,300], "tickSize": -5, "labels": false, "title": null}}}}
 ]},
{"width": 274, "height": 132, "data": {"name": "p4L"}, "resolve": {"axis": {"x": "independent", "y": "independent"}},
 "layer": [
  {"mark": {"type": "point", "filled": true, "size": 18, "color": "#0000ff", "opacity": 1},
   "encoding": {"x": {"field": "t", "type": "quantitative", "scale": {"domain": [3569.3, 3665.7], "nice": false, "zero": false}, "axis": {"orient": "bottom", "values": [3580,3600,3620,3640,3660], "format": "d", "tickSize": -9, "labelPadding": 16, "title": "HJD \u00a0-\u00a0 2450000", "titleX": 318, "titleY": 45, "titleBaseline": "alphabetic", "titleAlign": "center"}},
                "y": {"field": "v", "type": "quantitative", "scale": {"domain": [13.86, 15.305], "reverse": true, "nice": false, "zero": false}, "axis": {"orient": "left", "values": [14,14.5,15], "format": "~g", "tickSize": -9, "labelPadding": 15, "title": null}}}},
  {"mark": {"type": "point", "opacity": 0},
   "encoding": {"x": {"field": "t", "type": "quantitative", "scale": {"domain": [3569.3, 3665.7], "nice": false, "zero": false}, "axis": {"orient": "top", "values": [3580,3600,3620,3640,3660], "tickSize": -9, "labels": false, "title": null}},
                "y": {"field": "v", "type": "quantitative", "scale": {"domain": [13.86, 15.305], "reverse": true, "nice": false, "zero": false}, "axis": {"orient": "right", "values": [14,14.5,15], "tickSize": -9, "labels": false, "title": null}}}},
  {"mark": {"type": "point", "opacity": 0},
   "encoding": {"x": {"field": "t", "type": "quantitative", "scale": {"domain": [3569.3, 3665.7], "nice": false, "zero": false}, "axis": {"orient": "bottom", "values": [3570,3575,3585,3590,3595,3605,3610,3615,3625,3630,3635,3645,3650,3655,3665], "tickSize": -5, "labels": false, "title": null}},
                "y": {"field": "v", "type": "quantitative", "scale": {"domain": [13.86, 15.305], "reverse": true, "nice": false, "zero": false}, "axis": {"orient": "left", "values": [13.9,14.1,14.2,14.3,14.4,14.6,14.7,14.8,14.9,15.1,15.2,15.3], "tickSize": -5, "labels": false, "title": null}}}},
  {"mark": {"type": "point", "opacity": 0},
   "encoding": {"x": {"field": "t", "type": "quantitative", "scale": {"domain": [3569.3, 3665.7], "nice": false, "zero": false}, "axis": {"orient": "top", "values": [3570,3575,3585,3590,3595,3605,3610,3615,3625,3630,3635,3645,3650,3655,3665], "tickSize": -5, "labels": false, "title": null}},
                "y": {"field": "v", "type": "quantitative", "scale": {"domain": [13.86, 15.305], "reverse": true, "nice": false, "zero": false}, "axis": {"orient": "right", "values": [13.9,14.1,14.2,14.3,14.4,14.6,14.7,14.8,14.9,15.1,15.2,15.3], "tickSize": -5, "labels": false, "title": null}}}}
 ]},
{"width": 271, "height": 132, "data": {"name": "p4R"}, "resolve": {"axis": {"x": "independent", "y": "independent"}},
 "layer": [
  {"mark": {"type": "point", "filled": true, "size": 18, "color": "#ff0000", "opacity": 1},
   "encoding": {"x": {"field": "t", "type": "quantitative", "scale": {"domain": [3569.3, 3665.7], "nice": false, "zero": false}, "axis": {"orient": "bottom", "values": [3580,3600,3620,3640,3660], "format": "d", "tickSize": -9, "labelPadding": 16, "title": null}},
                "y": {"field": "v", "type": "quantitative", "scale": {"domain": [-338, 195], "reverse": true, "nice": false, "zero": false}, "axis": {"orient": "left", "values": [-300,-200,-100,0,100], "format": "d", "tickSize": -9, "labelPadding": 17, "title": null}}}},
  {"mark": {"type": "point", "opacity": 0},
   "encoding": {"x": {"field": "t", "type": "quantitative", "scale": {"domain": [3569.3, 3665.7], "nice": false, "zero": false}, "axis": {"orient": "top", "values": [3580,3600,3620,3640,3660], "tickSize": -9, "labels": false, "title": null}},
                "y": {"field": "v", "type": "quantitative", "scale": {"domain": [-338, 195], "reverse": true, "nice": false, "zero": false}, "axis": {"orient": "right", "values": [-300,-200,-100,0,100], "tickSize": -9, "labels": false, "title": null}}}},
  {"mark": {"type": "point", "opacity": 0},
   "encoding": {"x": {"field": "t", "type": "quantitative", "scale": {"domain": [3569.3, 3665.7], "nice": false, "zero": false}, "axis": {"orient": "bottom", "values": [3570,3575,3585,3590,3595,3605,3610,3615,3625,3630,3635,3645,3650,3655,3665], "tickSize": -5, "labels": false, "title": null}},
                "y": {"field": "v", "type": "quantitative", "scale": {"domain": [-338, 195], "reverse": true, "nice": false, "zero": false}, "axis": {"orient": "left", "values": [-320,-280,-260,-240,-220,-180,-160,-140,-120,-80,-60,-40,-20,20,40,60,80,120,140,160,180], "tickSize": -5, "labels": false, "title": null}}}},
  {"mark": {"type": "point", "opacity": 0},
   "encoding": {"x": {"field": "t", "type": "quantitative", "scale": {"domain": [3569.3, 3665.7], "nice": false, "zero": false}, "axis": {"orient": "top", "values": [3570,3575,3585,3590,3595,3605,3610,3615,3625,3630,3635,3645,3650,3655,3665], "tickSize": -5, "labels": false, "title": null}},
                "y": {"field": "v", "type": "quantitative", "scale": {"domain": [-338, 195], "reverse": true, "nice": false, "zero": false}, "axis": {"orient": "right", "values": [-320,-280,-260,-240,-220,-180,-160,-140,-120,-80,-60,-40,-20,20,40,60,80,120,140,160,180], "tickSize": -5, "labels": false, "title": null}}}}
 ]}
]
}
